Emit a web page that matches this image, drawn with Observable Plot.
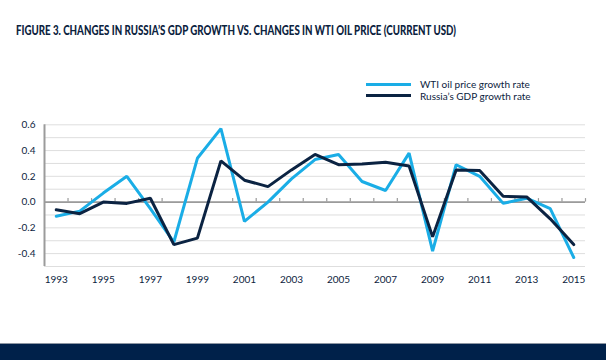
<!DOCTYPE html>
<html>
<head>
<meta charset="utf-8">
<script src="https://cdn.jsdelivr.net/npm/d3@7"></script>
<script src="https://cdn.jsdelivr.net/npm/@observablehq/plot@0.6"></script>
<style>
  html, body { margin: 0; padding: 0; background: #fff; }
  #wrap { position: relative; width: 606px; height: 360px; overflow: hidden; font-family: Lato, "Open Sans", sans-serif; color: #0c2340; }
  #title { position: absolute; left: 16px; top: 23px; font-family: Lato, "Open Sans", sans-serif; font-weight: 900; font-size: 13px; line-height: 15px; color: #0c2340; white-space: nowrap; transform-origin: 0 50%; }
  #chart { position: absolute; left: 0; top: 0; }
  .lg-sw { position: absolute; left: 366px; width: 45px; height: 3px; }
  .lg-tx { position: absolute; left: 420px; font-size: 10px; line-height: 12px; white-space: nowrap; }
  #footer { position: absolute; left: 0; top: 343px; width: 606px; height: 17px; background: #00214a; border-top: 1px solid #8d96a3; box-sizing: border-box; }
</style>
</head>
<body>
<div id="wrap">
  <div id="chart"></div>
  <div id="title">FIGURE 3. CHANGES IN RUSSIA’S GDP GROWTH VS. CHANGES IN WTI OIL PRICE (CURRENT USD)</div>
  <div class="lg-sw" id="sw1" style="top:82.5px"></div>
  <div class="lg-tx" id="tx1" style="top:78px"></div>
  <div class="lg-sw" id="sw2" style="top:94px"></div>
  <div class="lg-tx" id="tx2" style="top:89.5px"></div>
  <div id="footer"></div>
</div>
<script>
const years = [1993,1994,1995,1996,1997,1998,1999,2000,2001,2002,2003,2004,2005,2006,2007,2008,2009,2010,2011,2012,2013,2014,2015];
const wtiGrowth = [-0.11,-0.07,0.07,0.20,-0.05,-0.31,0.34,0.57,-0.15,0.00,0.18,0.33,0.37,0.16,0.09,0.38,-0.38,0.29,0.20,-0.01,0.03,-0.05,-0.43];
const gdpGrowth = [-0.06,-0.09,0.00,-0.01,0.03,-0.33,-0.28,0.32,0.17,0.12,0.25,0.37,0.29,0.295,0.31,0.28,-0.27,0.25,0.245,0.045,0.04,-0.13,-0.33];
const seriesNames = ["WTI oil price growth rate", "Russia’s GDP growth rate"];
const seriesColors = ["#1aade6", "#0b2342"];
const xTickLabels = [1993,1995,1997,1999,2001,2003,2005,2007,2009,2011,2013,2015];
const yTickLabels = [-0.4,-0.2,0.0,0.2,0.4,0.6];
const yGridValues = [-0.5,-0.4,-0.3,-0.2,-0.1,0.0,0.1,0.2,0.3,0.4,0.5,0.6];
const yDomain = [-0.5, 0.6];

const wti = years.map((y, i) => ({year: y, value: wtiGrowth[i]}));
const gdp = years.map((y, i) => ({year: y, value: gdpGrowth[i]}));
const bandEdges = years.map(y => y + 0.5);
const xDomain = [years[0] - 0.5, years[years.length - 1] + 0.5];

const chart = Plot.plot({
  width: 606,
  height: 343,
  marginTop: 124.3,
  marginBottom: 77,
  marginLeft: 44,
  marginRight: 21,
  style: {fontFamily: "Lato, 'Open Sans', sans-serif", fontSize: "10px", color: "#0c2340", background: "transparent"},
  x: {domain: xDomain, ticks: xTickLabels, tickFormat: d => String(d), tickSize: 0, tickPadding: 9, label: null},
  y: {domain: yDomain, ticks: yTickLabels, tickFormat: d => (Math.abs(d) < 1e-9 ? 0 : d).toFixed(1), tickSize: 0, tickPadding: 9, label: null},
  marks: [
    Plot.ruleY(yGridValues, {stroke: "#dedede", strokeWidth: 1}),
    Plot.ruleY([0], {stroke: "#9b9b9b", strokeWidth: 1.6}),
    Plot.ruleX(bandEdges, {x: d => d, y1: 0, y2: 0, insetTop: -3.5, stroke: "#9b9b9b", strokeWidth: 1.2}),
    Plot.ruleX([xDomain[0]], {y1: yDomain[0], y2: yDomain[1], stroke: "#9b9b9b", strokeWidth: 2}),
    Plot.line(wti, {x: "year", y: "value", stroke: seriesColors[0], strokeWidth: 3, strokeLinejoin: "miter"}),
    Plot.line(gdp, {x: "year", y: "value", stroke: seriesColors[1], strokeWidth: 3, strokeLinejoin: "miter"})
  ]
});
document.getElementById("chart").appendChild(chart);
document.getElementById("sw1").style.background = seriesColors[0];
document.getElementById("sw2").style.background = seriesColors[1];
document.getElementById("tx1").textContent = seriesNames[0];
document.getElementById("tx2").textContent = seriesNames[1];

const title = document.getElementById("title");
const tw = title.getBoundingClientRect().width;
title.style.transform = `scaleX(${440 / tw})`;
</script>
</body>
</html>
